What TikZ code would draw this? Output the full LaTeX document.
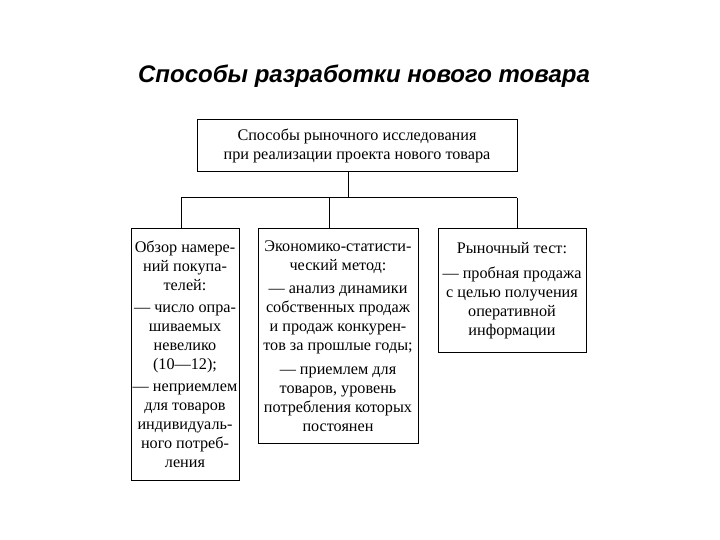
\documentclass[tikz,border=0pt]{standalone}
\usepackage{fontspec}
\setmainfont{Liberation Serif}
\newfontfamily\titlefont{Liberation Sans}
\begin{document}
\begin{tikzpicture}[x=1pt,y=-1pt,
  box/.style={draw=black, line width=1pt, align=center, inner sep=0pt,
    font=\fontsize{16.2}{19}\selectfont},
  conn/.style={draw=black, line width=1pt}]
\useasboundingbox (0,0) rectangle (720,540);
\node[font=\titlefont\fontsize{24}{28}\selectfont\bfseries\itshape] (title) at (364,76) {Способы разработки нового товара};
\node[box, minimum width=320pt, minimum height=52pt] (top) at (357,146)
  {Способы рыночного исследования\\при реализации проекта нового товара};
\node[box, minimum width=108pt, minimum height=251pt] (left) at (185,354.5)
  {Обзор намере-\\ний покупа-\\телей:\\[3pt]— число опра-\\шиваемых\\невелико\\(10—12);\\[3pt]— неприемлем\\для товаров\\индивидуаль-\\ного потреб-\\ления};
\node[box, minimum width=160pt, minimum height=214pt] (mid) at (338,336)
  {Экономико-статисти-\\ческий метод:\\[4pt]— анализ динамики\\собственных продаж\\и продаж конкурен-\\тов за прошлые годы;\\[5pt]— приемлем для\\товаров, уровень\\потребления которых\\постоянен};
\node[box, minimum width=148pt, minimum height=123pt] (right) at (512,290.5)
  {Рыночный тест:\\[6pt]— пробная продажа\\с целью получения\\оперативной\\информации};
\coordinate (bus) at (348,198);
\coordinate (jl) at (181,198);
\coordinate (jm) at (329,198);
\coordinate (jr) at (517,198);
\draw[conn] (bus |- top.south) -- (bus);
\draw[conn] (jl) -- (jr);
\draw[conn] (jl) -- (jl |- left.north);
\draw[conn] (jm) -- (jm |- mid.north);
\draw[conn] (jr) -- (jr |- right.north);
\end{tikzpicture}
\end{document}
